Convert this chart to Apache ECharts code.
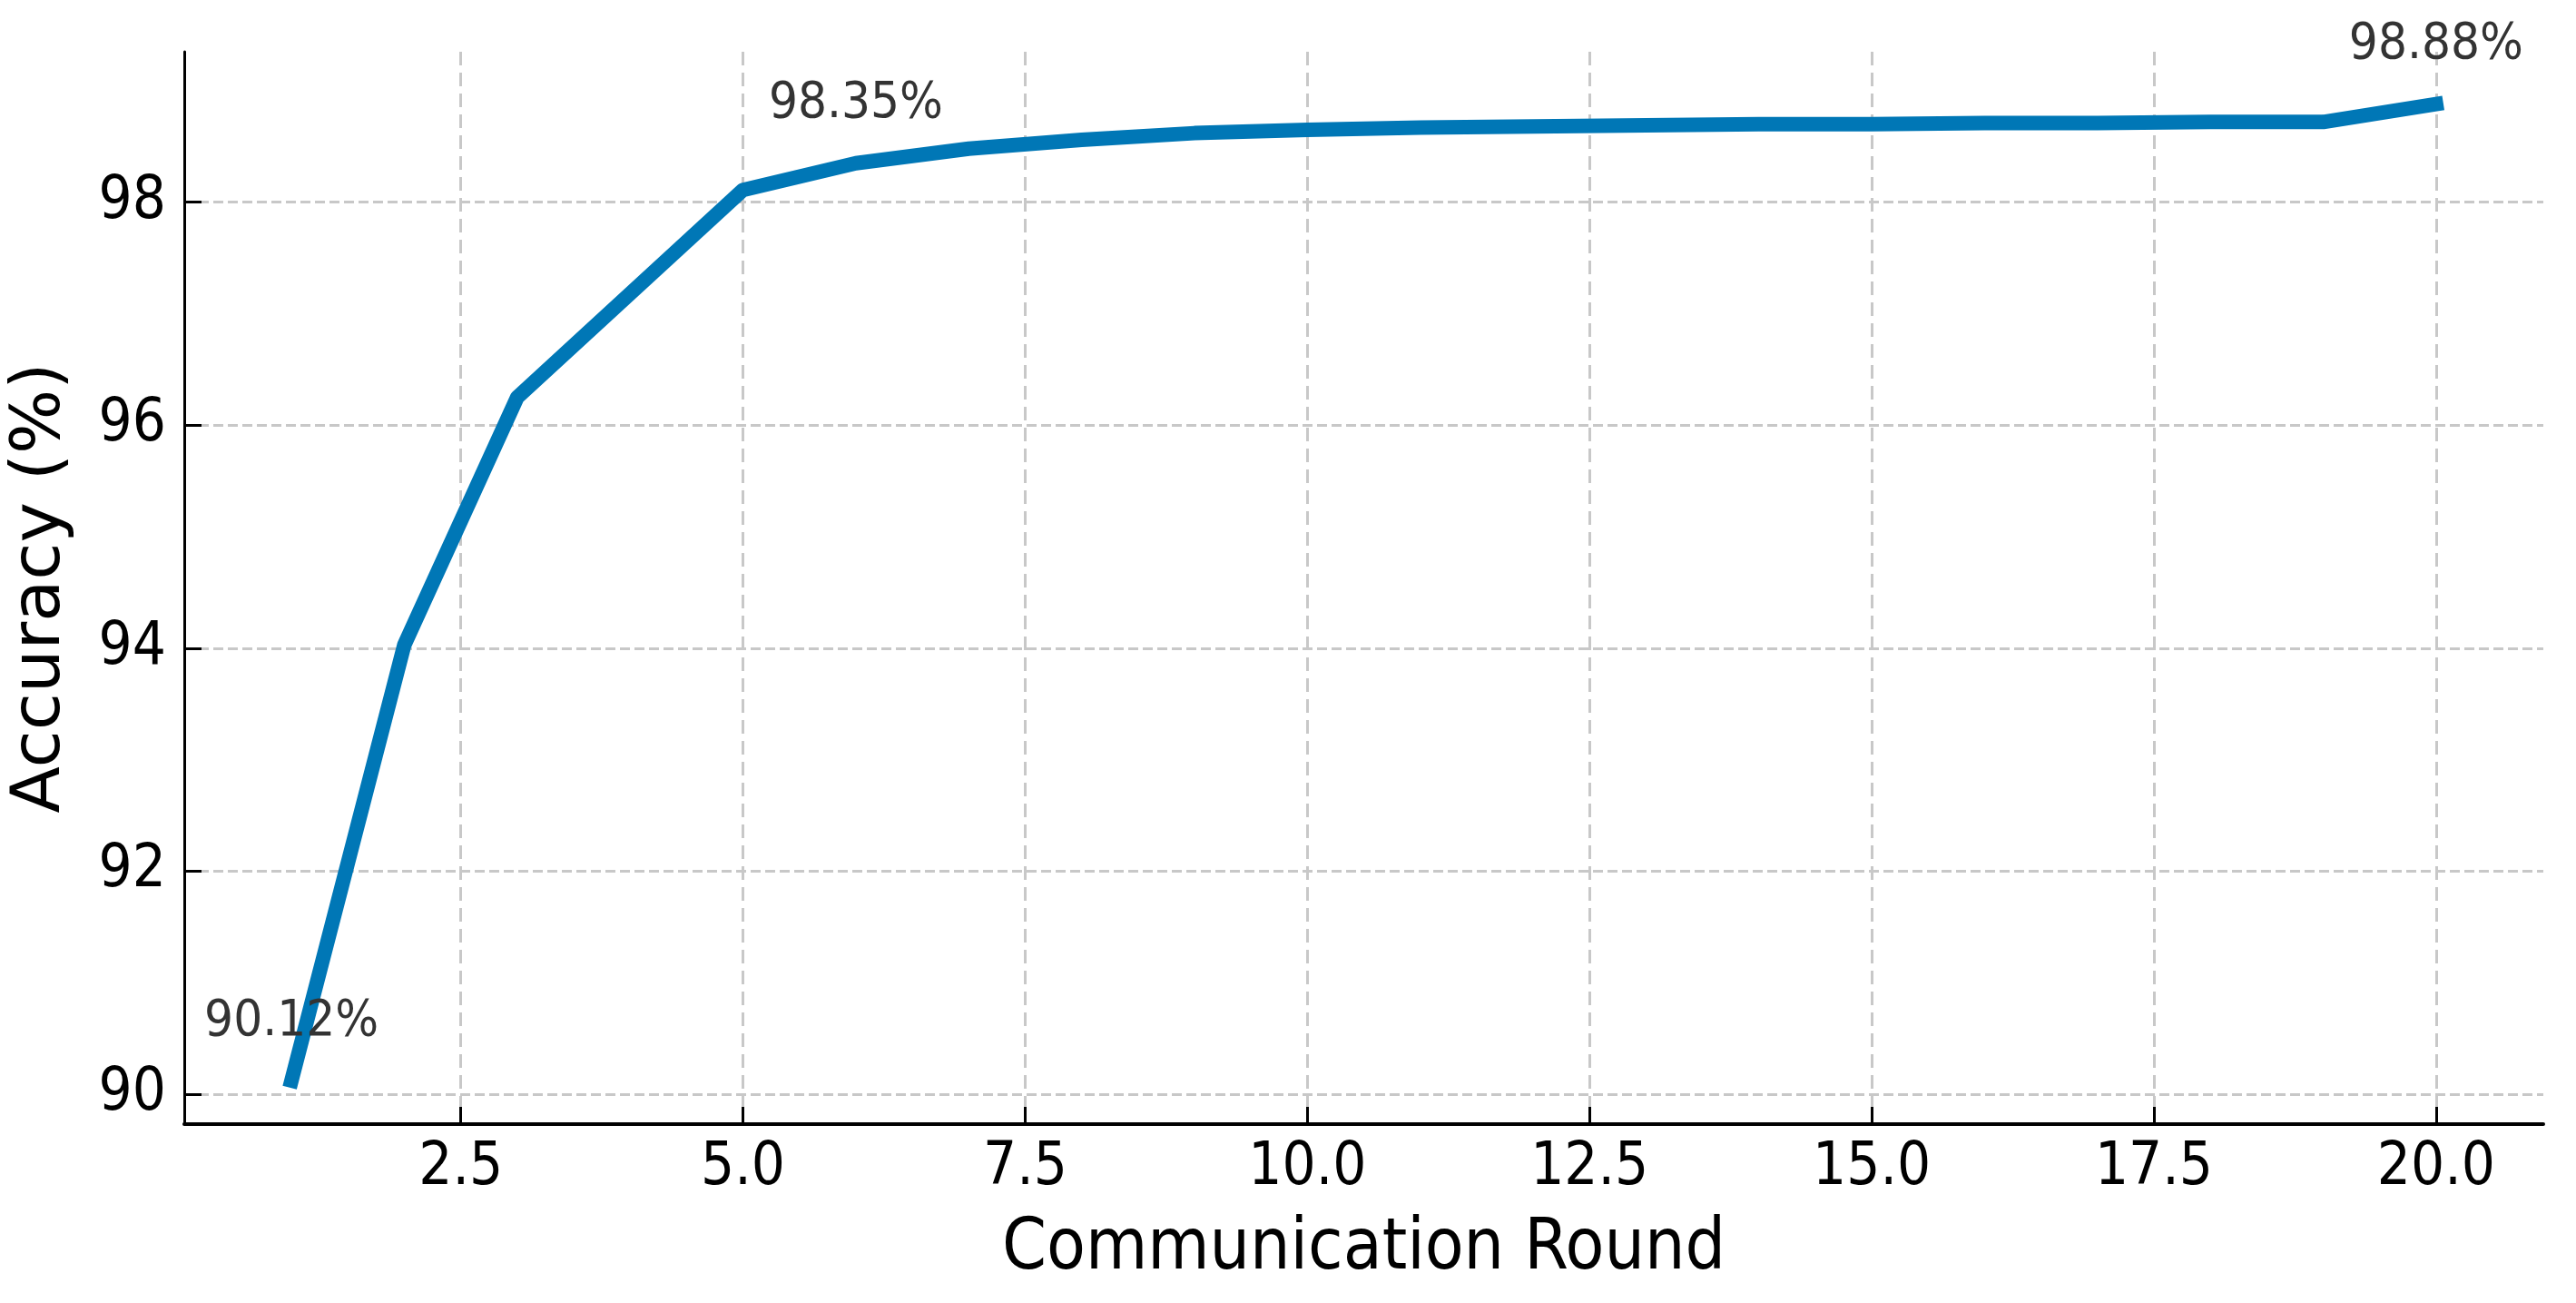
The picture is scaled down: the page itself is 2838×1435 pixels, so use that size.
<!DOCTYPE html>
<html>
<head>
<meta charset="utf-8">
<script src="https://cdn.jsdelivr.net/npm/echarts@6/dist/echarts.min.js"></script>
<style>
html,body{margin:0;padding:0;background:#fff;}
#chart{width:2838px;height:1435px;}
</style>
</head>
<body>
<div id="chart"></div>
<script>
const rounds = [1,2,3,4,5,6,7,8,9,10,11,12,13,14,15,16,17,18,19,20];
const accuracy = [90.12,94.03,96.25,97.18,98.11,98.35,98.48,98.56,98.62,98.65,98.67,98.68,98.69,98.70,98.70,98.71,98.71,98.72,98.72,98.88];
const annotatedIdx = [0,5,19];
const xTicks = [2.5,5.0,7.5,10.0,12.5,15.0,17.5,20.0];
const yTicks = [90,92,94,96,98];

const hFont = "'DejaVu Sans Condensed', 'DejaVu Sans', sans-serif";
const vFont = "'DejaVu Sans', sans-serif";

const data = rounds.map((r, i) => {
  const item = {value: [r, accuracy[i]]};
  if (annotatedIdx.indexOf(i) >= 0) {
    item.label = {show: true};
  }
  return item;
});

const chart = echarts.init(document.getElementById('chart'), null, {renderer: 'canvas'});
chart.setOption({
  animation: false,
  backgroundColor: '#ffffff',
  grid: {left: 201, right: 36, top: 57, bottom: 197, containLabel: false},
  xAxis: {
    type: 'value',
    min: 0.05, max: 20.95,
    name: 'Communication Round',
    nameLocation: 'middle',
    nameGap: 100,
    nameTextStyle: {fontFamily: hFont, fontSize: 78, color: '#000'},
    axisLine: {show: true, onZero: false, lineStyle: {color: '#000', width: 4}},
    axisTick: {show: true, inside: true, length: 19, customValues: xTicks, lineStyle: {color: '#000', width: 3}},
    axisLabel: {customValues: xTicks, margin: 17, fontFamily: hFont, fontSize: 65, color: '#000',
      formatter: v => Number(v).toFixed(1)},
    splitLine: {show: true, lineStyle: {color: '#c8c8c8', width: 3, type: [15, 8]}}
  },
  yAxis: {
    type: 'value',
    min: 89.73, max: 99.35,
    name: 'Accuracy (%)',
    nameLocation: 'middle',
    nameGap: 120,
    nameRotate: 90,
    nameTextStyle: {fontFamily: vFont, fontSize: 75, color: '#000'},
    axisLine: {show: true, onZero: false, lineStyle: {color: '#000', width: 3}},
    axisTick: {show: true, inside: true, length: 19, customValues: yTicks, lineStyle: {color: '#000', width: 3}},
    axisLabel: {customValues: yTicks, margin: 20, fontFamily: hFont, fontSize: 65, color: '#000'},
    splitLine: {show: true, lineStyle: {color: '#c8c8c8', width: 3, type: [11, 5]}}
  },
  series: [{
    type: 'line',
    data: data,
    showSymbol: true,
    symbol: 'circle',
    symbolSize: 0,
    lineStyle: {color: '#0077b6', width: 16, cap: 'square', join: 'round'},
    itemStyle: {color: '#0077b6'},
    label: {show: false, position: 'top', distance: 37, fontFamily: hFont, fontSize: 56, color: '#333',
      formatter: p => p.value[1].toFixed(2) + '%'},
    emphasis: {disabled: true}
  }]
});
</script>
</body>
</html>
